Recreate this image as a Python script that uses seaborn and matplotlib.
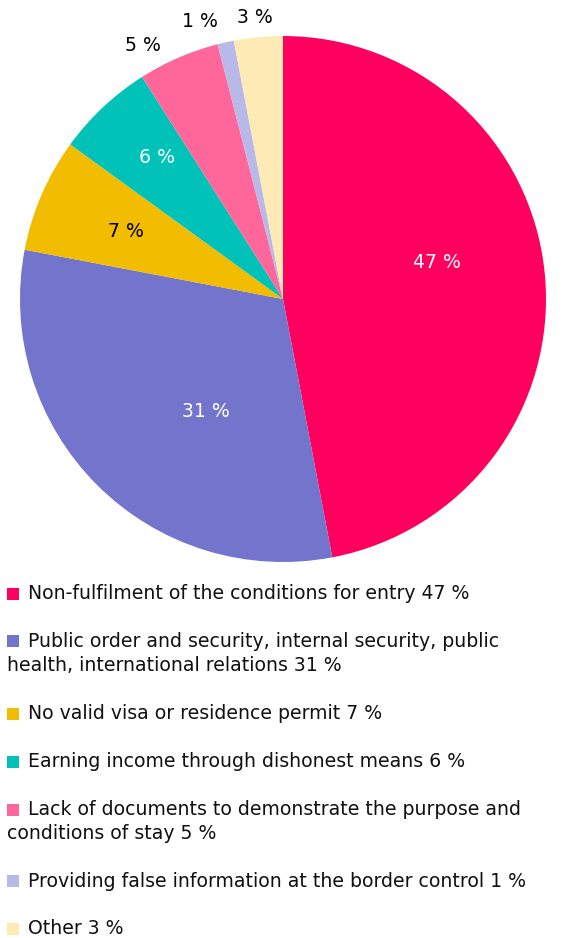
import matplotlib
matplotlib.use("Agg")
import matplotlib.pyplot as plt
import seaborn as sns
import numpy as np
from matplotlib.patches import Rectangle

# ---- data ----
categories = [
    "Non-fulfilment of the conditions for entry",
    "Public order and security, internal security, public\nhealth, international relations",
    "No valid visa or residence permit",
    "Earning income through dishonest means",
    "Lack of documents to demonstrate the purpose and\nconditions of stay",
    "Providing false information at the border control",
    "Other",
]
values = [47, 31, 7, 6, 5, 1, 3]
colors = ["#FF005E", "#7375CC", "#F2BC00", "#00C2B8", "#FF6699", "#B8B9E8", "#FDEAB5"]
label_colors = ["white", "white", "black", "white", "black", "black", "black"]
label_dist = [0.60, 0.52, 0.65, 0.72, 1.10, 1.10, 1.075]
label_shift = [8, 10.5, 0, -1.5, 5.5, 4, 0.3]  # degrees

sns.set_theme(style="white")
plt.rcParams["font.family"] = ["DejaVu Sans"]

W, H = 563, 938
fig = plt.figure(figsize=(W / 100, H / 100), dpi=100)

cx, cy, r = 283, 299, 263
ax = fig.add_axes([(cx - r) / W, (H - cy - r) / H, 2 * r / W, 2 * r / H])
ax.axis("off")

wedges, _ = ax.pie(values, colors=sns.color_palette(colors), startangle=90, counterclock=False,
                   radius=1, wedgeprops=dict(linewidth=0))
ax.set_xlim(-1, 1)
ax.set_ylim(-1, 1)
ax.set_aspect("equal")

fs = 13.6
for w, v, c, d, s in zip(wedges, values, label_colors, label_dist, label_shift):
    ang = np.deg2rad((w.theta1 + w.theta2) / 2 + s)
    ax.text(d * np.cos(ang), d * np.sin(ang), f"{v} %", color=c, fontsize=fs,
            ha="center", va="center", clip_on=False)

# legend (flowing text, wrapped lines start under the square)
baselines = [[599.3], [646.7, 670.7], [719.3], [767.3], [815.3, 839.3], [886.7], [934.3]]
for cat, v, col, bls in zip(categories, values, colors, baselines):
    lines = f"{cat} {v} %".split("\n")
    y0 = bls[0]
    fig.add_artist(Rectangle((7 / W, (H - y0 - 0.5) / H), 12 / W, 12 / H,
                             transform=fig.transFigure, facecolor=col, edgecolor="none"))
    fig.text(28 / W, (H - y0) / H, lines[0], fontsize=fs, color="#111111",
             ha="left", va="baseline")
    for ln, yb in zip(lines[1:], bls[1:]):
        fig.text(7 / W, (H - yb) / H, ln, fontsize=fs, color="#111111",
                 ha="left", va="baseline")

fig.savefig("out.png", dpi=100)
